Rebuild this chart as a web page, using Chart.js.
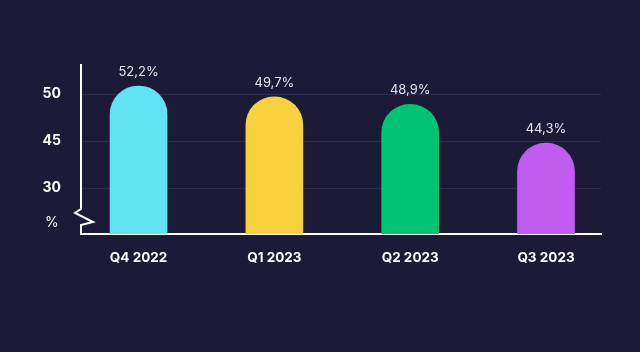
<!DOCTYPE html>
<html>
<head>
<meta charset="utf-8">
<script src="https://cdn.jsdelivr.net/npm/chart.js@4/dist/chart.umd.min.js"></script>
<style>
  html, body { margin: 0; padding: 0; background: #1b1a37; }
  #wrap { width: 640px; height: 352px; position: relative; }
</style>
</head>
<body>
<div id="wrap"><canvas id="c" width="640" height="352"></canvas></div>
<script>
// ---- data ----
const categories = ['Q4 2022', 'Q1 2023', 'Q2 2023', 'Q3 2023'];
const shareValues = [52.2, 49.7, 48.9, 44.3];
const barColors = ['#62e3f3', '#f7d23e', '#00c373', '#c25cf0'];
const yTickValues = [10, 30, 45, 50];      // 10 = slot for the unit label
const yTickLabels = ['%', '30', '45', '50'];

// ---- broken (piecewise linear) y scale ----
const Y_KNOT_VALUES = [0, 10, 30, 45, 50, 58.25];
const Y_KNOT_FRACS = [0, 11 / 170, 46 / 170, 93 / 170, 140 / 170, 1];

class BrokenLinearScale extends Chart.LinearScale {
  _frac(v) {
    const kv = Y_KNOT_VALUES, kf = Y_KNOT_FRACS;
    if (v <= kv[0]) return kf[0];
    for (let i = 1; i < kv.length; i++) {
      if (v <= kv[i]) {
        const t = (v - kv[i - 1]) / (kv[i] - kv[i - 1]);
        return kf[i - 1] + t * (kf[i] - kf[i - 1]);
      }
    }
    return kf[kf.length - 1];
  }
  getPixelForValue(v) {
    return this.bottom - this._frac(v) * (this.bottom - this.top);
  }
  getValueForPixel(p) {
    const f = (this.bottom - p) / (this.bottom - this.top);
    const kv = Y_KNOT_VALUES, kf = Y_KNOT_FRACS;
    for (let i = 1; i < kf.length; i++) {
      if (f <= kf[i]) {
        const t = (f - kf[i - 1]) / (kf[i] - kf[i - 1]);
        return kv[i - 1] + t * (kv[i] - kv[i - 1]);
      }
    }
    return kv[kv.length - 1];
  }
}
BrokenLinearScale.id = 'broken';
BrokenLinearScale.defaults = Chart.LinearScale.defaults;
Chart.register(BrokenLinearScale);

const bgPlugin = {
  id: 'bg',
  beforeDraw(chart) {
    const ctx = chart.ctx;
    ctx.save();
    ctx.fillStyle = '#1b1a37';
    ctx.fillRect(0, 0, chart.width, chart.height);
    ctx.restore();
  }
};

const axisPlugin = {
  id: 'brokenAxis',
  afterDatasetsDraw(chart) {
    const ctx = chart.ctx;
    const a = chart.chartArea;
    const L = a.left, B = a.bottom;
    ctx.save();
    ctx.strokeStyle = '#ffffff';
    ctx.lineWidth = 2;
    ctx.lineJoin = 'miter';
    ctx.beginPath();
    ctx.moveTo(L, a.top);
    ctx.lineTo(L, B - 25);
    ctx.lineTo(L - 6, B - 21);
    ctx.lineTo(L + 12, B - 12);
    ctx.lineTo(L, B - 9);
    ctx.lineTo(L, B + 1);
    ctx.stroke();
    ctx.restore();
  }
};

const labelPlugin = {
  id: 'valueLabels',
  afterDatasetsDraw(chart) {
    const ctx = chart.ctx;
    const meta = chart.getDatasetMeta(0);
    ctx.save();
    ctx.font = '400 13px Inter, "Noto Sans", sans-serif';
    ctx.fillStyle = '#e4e4ec';
    ctx.textAlign = 'center';
    ctx.textBaseline = 'middle';
    meta.data.forEach((bar, i) => {
      const txt = shareValues[i].toFixed(1).replace('.', ',') + '%';
      ctx.fillText(txt, bar.x, bar.y - 14);
    });
    ctx.restore();
  }
};

new Chart(document.getElementById('c'), {
  type: 'bar',
  data: {
    datasets: [{
      data: categories.map((c, i) => ({ x: i, y: shareValues[i] })),
      backgroundColor: barColors,
      barThickness: 57,
      borderRadius: { topLeft: 28.5, topRight: 28.5, bottomLeft: 0, bottomRight: 0 },
      borderSkipped: 'bottom'
    }]
  },
  options: {
    responsive: false,
    animation: false,
    devicePixelRatio: 1,
    layout: { padding: { left: 0, right: 39, top: 64, bottom: 0 } },
    plugins: { legend: { display: false }, tooltip: { enabled: false } },
    scales: {
      x: {
        type: 'linear',
        offset: false,
        min: -0.424,
        max: 3.405,
        afterBuildTicks: (s) => { s.ticks = categories.map((c, i) => ({ value: i })); },
        afterFit: (s) => { s.height = 118; },
        grid: { display: false, drawTicks: false, offset: false },
        border: { display: true, color: '#ffffff', width: 2 },
        ticks: {
          autoSkip: false,
          maxRotation: 0,
          padding: 16,
          color: '#ffffff',
          font: { family: 'Inter, "Noto Sans", sans-serif', size: 13.5, weight: '700' },
          callback: (v) => categories[v]
        }
      },
      y: {
        type: 'broken',
        min: 0,
        max: 58.25,
        afterBuildTicks: (s) => { s.ticks = yTickValues.map(v => ({ value: v })); },
        afterFit: (s) => { s.width = 81; },
        border: { display: false },
        grid: {
          drawTicks: false,
          lineWidth: 1,
          color: (ctx) => (ctx.tick && ctx.tick.value === yTickValues[0]) ? 'rgba(0,0,0,0)' : '#2d2c4e'
        },
        ticks: {
          autoSkip: false,
          crossAlign: 'center',
          padding: 20,
          color: '#ffffff',
          font: (ctx) => ({
            family: 'Inter, "Noto Sans", sans-serif',
            size: 14,
            weight: (ctx.tick && ctx.tick.value === yTickValues[0]) ? '400' : '700'
          }),
          callback: (v) => yTickLabels[yTickValues.indexOf(v)]
        }
      }
    }
  },
  plugins: [bgPlugin, axisPlugin, labelPlugin]
});
</script>
</body>
</html>
